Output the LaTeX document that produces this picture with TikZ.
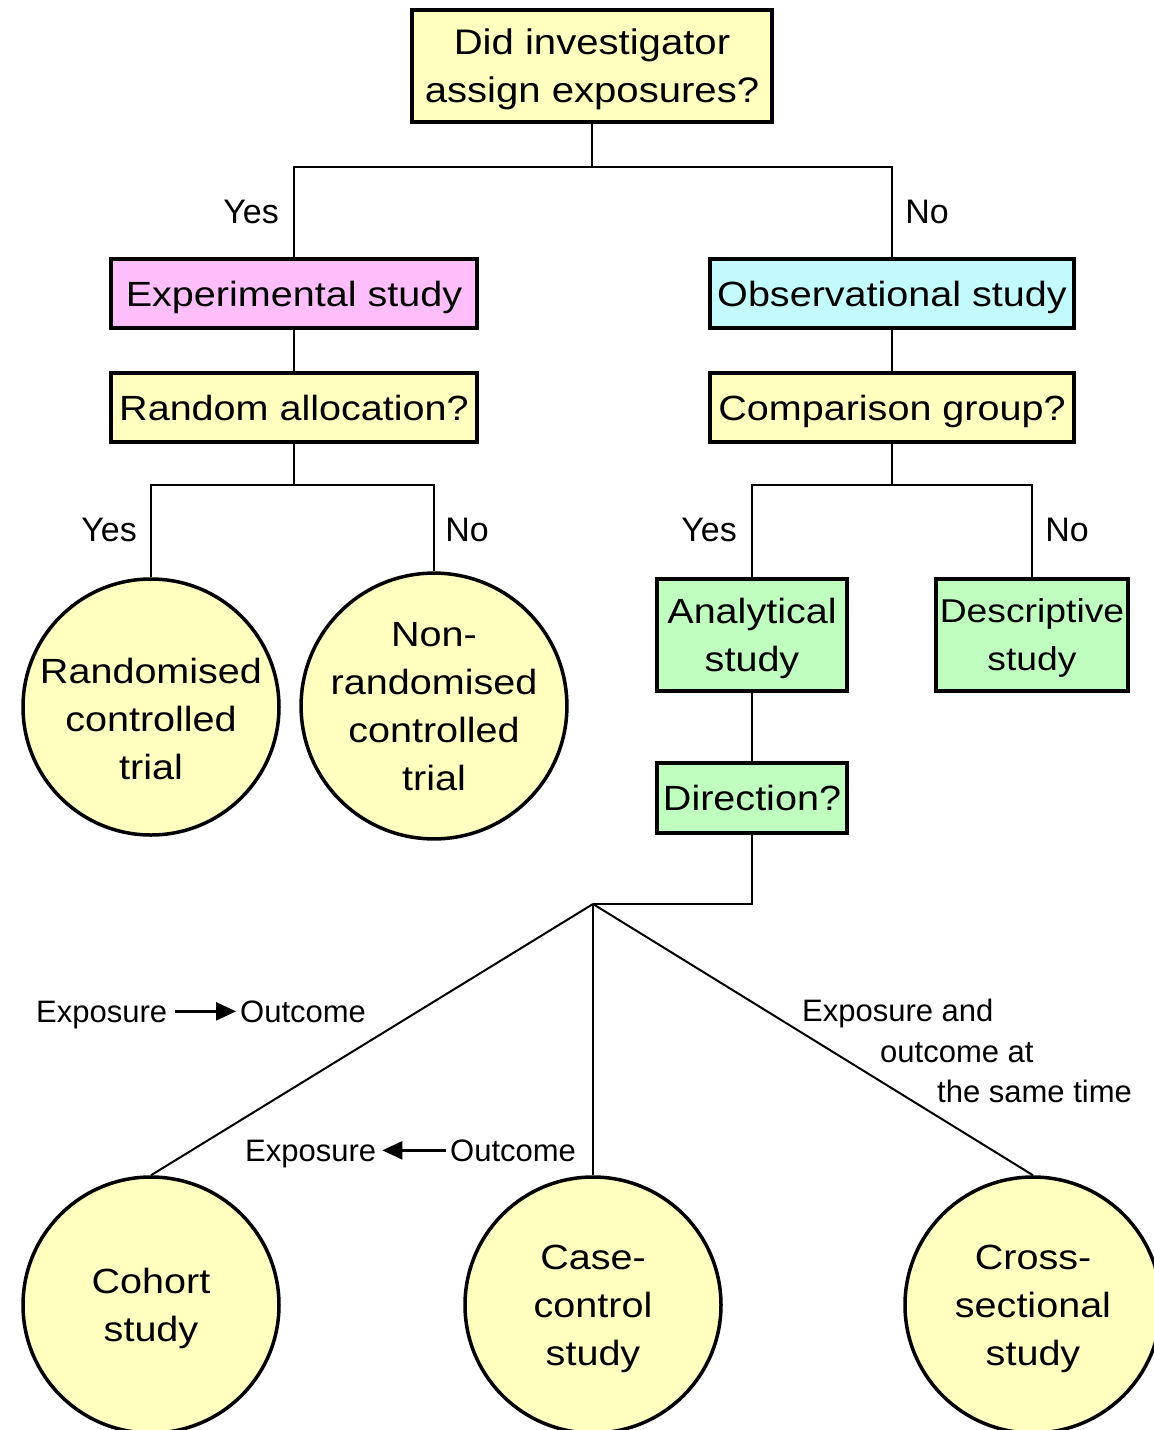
\documentclass[tikz,border=0pt]{standalone}
\usepackage{fontspec}
\setmainfont{Liberation Sans}
\newfontfamily\widefont[FakeStretch=1.13]{Liberation Sans}
\usetikzlibrary{arrows.meta}
\definecolor{cyel}{RGB}{255,255,192}
\definecolor{cpink}{RGB}{253,190,250}
\definecolor{ccyan}{RGB}{194,250,254}
\definecolor{cgreen}{RGB}{192,254,192}
\begin{document}
\begin{tikzpicture}[x=1pt,y=-1pt,
  box/.style={draw, line width=4pt, inner sep=0pt, align=center, text depth=0pt,
    font=\widefont\fontsize{35}{48}\selectfont},
  circ/.style={draw, circle, line width=3.5pt, fill=cyel, inner sep=0pt, text depth=0pt,
    minimum size=256pt, align=center, font=\widefont\fontsize{35}{48}\selectfont},
  circtext/.style={align=center, inner sep=0pt, font=\widefont\fontsize{35}{48}\selectfont},
  conn/.style={line width=2pt},
  yn/.style={font=\fontsize{34}{40}\selectfont, inner sep=0pt},
  lbl/.style={font=\fontsize{31}{40.5}\selectfont, inner sep=0pt},
  dirarrow/.style={line width=2.5pt, -{Triangle[length=20pt,width=18pt]}},
]
\useasboundingbox (0,0) rectangle (1154,1430);

% boxes
\node[box, fill=cyel, minimum width=360pt, minimum height=112pt,
  font=\widefont\fontsize{35.5}{48}\selectfont] (top) at (592,66) {Did investigator\\assign exposures?};
\node[box, fill=cpink, minimum width=366pt, minimum height=69pt] (exp) at (294,293.5) {Experimental study};
\node[box, fill=ccyan, minimum width=364pt, minimum height=69pt] (obs) at (892,293.5) {Observational study};
\node[box, fill=cyel, minimum width=366pt, minimum height=69pt] (rand) at (294,407.5) {Random allocation?};
\node[box, fill=cyel, minimum width=364pt, minimum height=69pt] (comp) at (892,407.5) {Comparison group?};
\node[box, fill=cgreen, minimum width=190pt, minimum height=112pt] (ana) at (752,635) {Analytical\\study};
\node[box, fill=cgreen, minimum width=192pt, minimum height=112pt,
  font=\widefont\fontsize{33}{48}\selectfont] (desc) at (1032,635) {Descriptive\\study};
\node[box, fill=cgreen, minimum width=190pt, minimum height=70pt] (dir) at (752,798) {Direction?};

% circles
\node[circ, label={[circtext, yshift=-12pt]center:Randomised\\controlled\\trial}] (rct) at (151,707) {};
\node[circ] (nrct) at (434,706) {Non-\\randomised\\controlled\\trial};
\node[circ] (coh) at (151,1305) {Cohort\\study};
\node[circ] (cc) at (593,1305) {Case-\\control\\study};
\node[circ] (cs) at (1033,1305) {Cross-\\sectional\\study};

% connectors
\coordinate (j1) at (593,167);
\draw[conn] (top.south) -- (top.south |- j1);
\draw[conn] (exp.north) |- (j1) -| (obs.north);
\draw[conn] (exp) -- (rand);
\draw[conn] (obs) -- (comp);

\coordinate (j2) at (293,485);
\draw[conn] (rand.south) -- (rand.south |- j2);
\draw[conn] (rct.north) |- (j2) -| (nrct.north);

\coordinate (j3) at (893,485);
\draw[conn] (comp.south) -- (comp.south |- j3);
\draw[conn] (ana.north) |- (j3) -| (desc.north);

\draw[conn] (ana) -- (dir);
\coordinate (hub) at (593,904);
\draw[conn] (dir.south) |- (hub);
\draw[conn] (hub) -- (coh.north);
\draw[conn] (hub) -- (cc.north);
\draw[conn] (hub) -- (cs.north);

% yes / no
\node[yn] (y1) at (251,212) {Yes};
\node[yn] (n1) at (927,212) {No};
\node[yn] (y2) at (109,530) {Yes};
\node[yn] (n2) at (467,530) {No};
\node[yn] (y3) at (709,530) {Yes};
\node[yn] (n3) at (1067,530) {No};

% direction labels
\node[lbl, anchor=base west] (e1) at (36,1022) {Exposure};
\node[lbl, anchor=base west] (o1) at (240,1022) {Outcome};
\coordinate (a1s) at ([xshift=8pt]e1.east |- o1.west);
\coordinate (a1e) at ([xshift=-4pt]o1.west);
\draw[dirarrow] (a1s) -- (a1e);

\node[lbl, anchor=base west] (e2) at (245,1161) {Exposure};
\node[lbl, anchor=base west] (o2) at (450,1161) {Outcome};
\coordinate (a2s) at ([xshift=-4pt]o2.west);
\coordinate (a2e) at ([xshift=6pt]e2.east |- o2.west);
\draw[dirarrow] (a2s) -- (a2e);

\node[lbl, align=left, anchor=north west] (same) at (802,999)
  {Exposure and\\\hspace*{78pt}outcome at\\\hspace*{135pt}the same time};
\end{tikzpicture}
\end{document}
